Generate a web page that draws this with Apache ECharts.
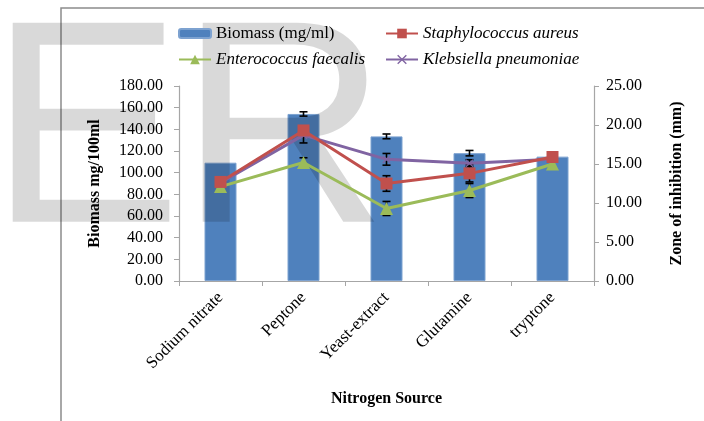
<!DOCTYPE html>
<html>
<head>
<meta charset="utf-8">
<script src="https://cdn.jsdelivr.net/npm/echarts@6/dist/echarts.min.js"></script>
<style>
  html, body { margin: 0; padding: 0; background: #fff; }
  #chart { width: 704px; height: 421px; }
</style>
</head>
<body>
<div id="chart"></div>
<script>
// Nitrogen sources tested
const categories = ['Sodium nitrate', 'Peptone', 'Yeast-extract', 'Glutamine', 'tryptone'];

// Biomass (mg/ml), left axis, with standard deviation
const biomass = [109.2, 154.2, 133.5, 118.0, 114.8];
const biomassErr = [0, 2.0, 2.2, 2.5, 0];

// Zone of inhibition (mm), right axis, with standard deviation
const staphAureus = [12.7, 19.3, 12.5, 13.8, 15.9];
const staphAureusErr = [0, 0, 1.0, 1.1, 0];
const enteroFaecalis = [12.1, 15.2, 9.3, 11.6, 15.0];
const enteroFaecalisErr = [0, 0.6, 0.9, 0.9, 0];
const klebPneumoniae = [12.6, 18.7, 15.6, 15.1, 15.6];
const klebPneumoniaeErr = [0, 1.0, 0.75, 0.45, 0];

// Axis tick settings
const leftTicks = { min: 0, max: 180, interval: 20 };
const rightTicks = { min: 0, max: 25, interval: 5 };

const SERIF = '"Liberation Serif", "Times New Roman", serif';

function errData(vals, errs) {
  const out = [];
  vals.forEach((v, i) => { if (errs[i] > 0) out.push([i, v - errs[i], v + errs[i]]); });
  return out;
}

function renderErr(params, api) {
  const x = api.value(0);
  const lo = api.coord([x, api.value(1)]);
  const hi = api.coord([x, api.value(2)]);
  const w = 4;
  const st = { stroke: '#000', lineWidth: 1.6 };
  return {
    type: 'group',
    children: [
      { type: 'line', shape: { x1: lo[0], y1: lo[1], x2: hi[0], y2: hi[1] }, style: st },
      { type: 'line', shape: { x1: lo[0] - w, y1: lo[1], x2: lo[0] + w, y2: lo[1] }, style: st },
      { type: 'line', shape: { x1: hi[0] - w, y1: hi[1], x2: hi[0] + w, y2: hi[1] }, style: st }
    ]
  };
}

function errSeries(vals, errs, yAxisIndex) {
  return {
    type: 'custom', yAxisIndex, z: 3, silent: true,
    renderItem: renderErr, encode: { x: 0, y: [1, 2] },
    data: errData(vals, errs)
  };
}

const crossPath = 'path://M0,1L1,0L5,4L9,0L10,1L6,5L10,9L9,10L5,6L1,10L0,9L4,5Z';

const legendText = { fontFamily: SERIF, fontSize: 17, color: '#000' };
function legendAt(name, left, top, italic, h) {
  return {
    data: [name], left, top, itemWidth: 32, itemHeight: h, itemGap: 0,
    textStyle: Object.assign({}, legendText, { fontStyle: italic ? 'italic' : 'normal' }),
    padding: 0, selectedMode: false, z: 6
  };
}

const chart = echarts.init(document.getElementById('chart'), null, { renderer: 'canvas' });

chart.setOption({
  animation: false,
  backgroundColor: '#fff',
  grid: { left: 179, right: 110, top: 86, bottom: 140 },
  legend: [
    legendAt('Biomass (mg/ml)', 178, 25, false, 9),
    legendAt('Staphylococcus aureus', 385, 25, true, 12),
    legendAt('Enterococcus faecalis', 178, 51, true, 12),
    legendAt('Klebsiella pneumoniae', 385, 51, true, 12)
  ],
  graphic: [
    // outer chart frame
    { type: 'rect', z: 0, shape: { x: 61, y: 8, width: 800, height: 600 },
      style: { fill: 'none', stroke: '#8c8c8c', lineWidth: 1.5 } },
    // publisher watermark letters
    { type: 'text', z: 2, silent: true, x: -11, y: 142,
      style: { text: 'E', font: '289px "Liberation Sans", Arial, sans-serif',
               fill: 'rgba(0,0,0,0.15)', verticalAlign: 'middle', align: 'left' } },
    { type: 'text', z: 2, silent: true, x: 179, y: 142,
      style: { text: 'R', font: '289px "Liberation Sans", Arial, sans-serif',
               fill: 'rgba(0,0,0,0.15)', verticalAlign: 'middle', align: 'left' } }
  ],
  xAxis: {
    type: 'category', data: categories,
    name: 'Nitrogen Source', nameLocation: 'middle', nameGap: 110,
    nameTextStyle: { fontFamily: SERIF, fontSize: 16, fontWeight: 'bold', color: '#000' },
    axisLine: { lineStyle: { color: '#a6a6a6', width: 1.2 } },
    axisTick: { show: true, length: 5, inside: false, lineStyle: { color: '#a6a6a6' } },
    axisLabel: { interval: 0, rotate: 45, margin: 14, fontFamily: SERIF, fontSize: 17, color: '#000' }
  },
  yAxis: [
    {
      type: 'value', position: 'left', min: leftTicks.min, max: leftTicks.max, interval: leftTicks.interval,
      name: 'Biomass mg/100ml', nameLocation: 'middle', nameGap: 76, nameRotate: 90,
      nameTextStyle: { fontFamily: SERIF, fontSize: 16, fontWeight: 'bold', color: '#000' },
      axisLine: { show: true, lineStyle: { color: '#a6a6a6', width: 1.2 } },
      axisTick: { show: true, length: 5, lineStyle: { color: '#a6a6a6' } },
      splitLine: { show: false },
      axisLabel: { margin: 16, fontFamily: SERIF, fontSize: 16, color: '#000',
                   formatter: v => v.toFixed(2) }
    },
    {
      type: 'value', position: 'right', min: rightTicks.min, max: rightTicks.max, interval: rightTicks.interval,
      name: 'Zone of inhibition (mm)', nameLocation: 'middle', nameGap: 75, nameRotate: 90,
      nameTextStyle: { fontFamily: SERIF, fontSize: 16, fontWeight: 'bold', color: '#000' },
      axisLine: { show: true, lineStyle: { color: '#a6a6a6', width: 1.2 } },
      axisTick: { show: true, length: 5, lineStyle: { color: '#a6a6a6' } },
      splitLine: { show: false },
      axisLabel: { margin: 12, fontFamily: SERIF, fontSize: 16, color: '#000',
                   formatter: v => v.toFixed(2) }
    }
  ],
  series: [
    {
      name: 'Biomass (mg/ml)', type: 'bar', yAxisIndex: 0, z: 1, barWidth: 32,
      data: biomass,
      itemStyle: { color: '#4f81bd', borderColor: '#7da2d0', borderWidth: 1 }
    },
    errSeries(biomass, biomassErr, 0),
    {
      name: 'Staphylococcus aureus', type: 'line', yAxisIndex: 1, z: 5,
      data: staphAureus, symbol: 'rect', symbolSize: 12,
      lineStyle: { color: '#c0504d', width: 3 }, itemStyle: { color: '#c0504d' }
    },
    {
      name: 'Enterococcus faecalis', type: 'line', yAxisIndex: 1, z: 4,
      data: enteroFaecalis, symbol: 'triangle', symbolSize: 13,
      lineStyle: { color: '#9bbb59', width: 3 }, itemStyle: { color: '#9bbb59' }
    },
    {
      name: 'Klebsiella pneumoniae', type: 'line', yAxisIndex: 1, z: 4,
      data: klebPneumoniae, symbol: crossPath, symbolSize: 8,
      lineStyle: { color: '#8064a2', width: 3 }, itemStyle: { color: '#8064a2' }
    },
    errSeries(staphAureus, staphAureusErr, 1),
    errSeries(enteroFaecalis, enteroFaecalisErr, 1),
    errSeries(klebPneumoniae, klebPneumoniaeErr, 1)
  ]
});
</script>
</body>
</html>
